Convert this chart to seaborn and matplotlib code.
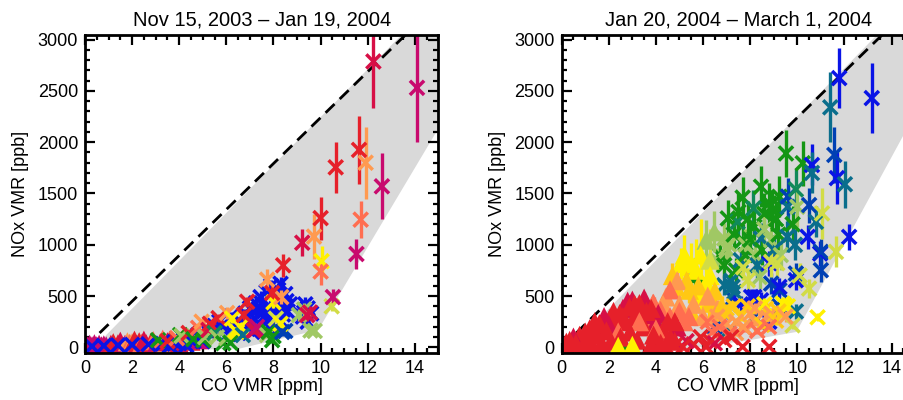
import numpy as np
import pandas as pd
import matplotlib
matplotlib.use("Agg")
import matplotlib.pyplot as plt
from matplotlib.ticker import MultipleLocator
import seaborn as sns

# ---------------- data ----------------
TITLES = ["Nov 15, 2003 \u2013 Jan 19, 2004", "Jan 20, 2004 \u2013 March 1, 2004"]
XLABEL = "CO VMR [ppm]"
YLABEL = "NOx VMR [ppb]"

# colour category (time bin) -> colour
PALETTE = ["#0a14e6", "#0040b4", "#0a6e8c", "#108a5a", "#149614", "#a0c864", "#d2dc46",
           "#fff000", "#ffc814", "#ff9a50", "#ff6e50", "#e6202a", "#d70f46", "#c80a6e"]

# shaded envelope and dashed reference line
L_band_x = [0.3, 0.9, 13.45, 15.3, 15.3, 9.9, 6.6, 0.3]
L_band_y = [-55, 120, 3050, 3050, 2250, 170, -10, -55]
R_band_x = [0.3, 0.9, 13.4, 15.6, 15.6, 9.96, 7.97, 4.0, 0.3]
R_band_y = [-55, 120, 3050, 3050, 2530, 150, 70, -55, -55]
DASH_X = [0.62, 13.62]
DASH_Y = [140, 3050]

# ---- left panel: rows of (CO ppm, NOx ppb, NOx error, colour bin) ----
L_tri = [
    (0.1, 15, 5, 13), (0.2, 30, 5, 13), (0.3, 15, 5, 13), (0.4, 35, 5, 13), (0.5, 15, 5, 13),
    (0.6, 30, 5, 13), (0.7, 15, 5, 13), (0.8, 25, 5, 13), (0.9, 15, 5, 13), (1.1, 30, 10, 12),
    (1.2, 45, 10, 11), (1.4, 35, 10, 11), (1.5, 60, 10, 12), (1.7, 30, 10, 13), (1.8, 55, 10, 9),
    (1.9, 40, 10, 10), (2.0, 45, 15, 9), (2.1, 70, 15, 11), (2.2, 30, 10, 12), (2.3, 55, 15, 11),
    (2.4, 40, 10, 10), (2.5, 70, 15, 12), (2.6, 35, 10, 12), (2.8, 50, 15, 11), (2.9, 65, 20, 10),
    (3.0, 25, 10, 13), (3.2, 45, 15, 11), (3.3, 80, 20, 10), (3.4, 30, 10, 9), (3.5, 55, 20, 12),
    (3.6, 70, 20, 11), (4.0, 40, 15, 12), (4.5, 60, 20, 11), (4.85, 75, 30, 13),
]
L_blue = [
    (0.3, 10, 10, 0), (0.8, 15, 10, 0), (1.4, 20, 10, 0), (2.0, 25, 10, 0), (2.7, 30, 10, 0),
    (3.3, 35, 10, 0), (3.6, 15, 10, 0), (3.8, 50, 15, 0), (4.0, 40, 15, 0), (4.2, 70, 20, 0),
    (4.3, 20, 10, 0), (4.5, 110, 20, 0), (4.6, 60, 20, 0), (4.8, 120, 25, 0), (4.9, 90, 20, 0),
    (5.0, 60, 15, 0), (5.2, 160, 30, 0), (5.4, 140, 30, 0), (5.5, 210, 30, 0), (5.6, 180, 30, 0),
    (5.7, 250, 40, 0), (5.9, 170, 30, 0), (6.0, 200, 30, 0), (6.1, 130, 30, 0), (6.2, 300, 40, 0),
    (6.3, 190, 30, 0), (6.4, 220, 30, 0), (6.5, 140, 30, 0), (6.6, 250, 40, 0), (6.8, 330, 40, 0),
    (6.9, 300, 40, 0), (6.95, 220, 30, 0), (7.0, 380, 50, 0), (7.05, 250, 40, 0), (7.1, 150, 30, 0),
    (7.2, 280, 40, 0), (7.25, 430, 50, 0), (7.35, 370, 50, 0), (7.4, 180, 30, 0), (7.45, 490, 60, 0),
    (7.5, 430, 50, 0), (7.6, 300, 40, 0), (7.6, 350, 50, 0), (7.7, 540, 60, 0), (7.7, 260, 40, 0),
    (7.8, 200, 30, 0), (7.85, 380, 50, 0), (7.9, 600, 60, 0), (7.95, 230, 30, 0), (8.0, 170, 30, 0),
    (8.05, 470, 60, 0), (8.1, 330, 40, 0), (8.15, 500, 60, 0), (8.2, 400, 50, 0), (8.2, 560, 70, 0),
    (8.3, 620, 70, 0), (8.35, 250, 40, 0), (8.4, 320, 50, 0), (8.45, 380, 50, 0), (8.5, 160, 30, 1),
    (8.5, 520, 60, 0), (8.55, 450, 60, 0), (8.6, 350, 50, 0), (8.7, 420, 60, 0), (9.25, 300, 60, 0),
    (9.3, 340, 100, 0), (9.35, 420, 70, 0), (9.45, 250, 60, 0), (9.45, 380, 60, 0), (9.6, 330, 50, 0),
]
L_mix = [
    (3.1, 70, 20, 4), (3.5, 60, 20, 11), (3.9, 90, 20, 10), (4.04, 120, 25, 4), (4.1, 110, 25, 5),
    (4.4, 140, 25, 11), (4.6, 80, 20, 4), (4.8, 190, 30, 10), (4.95, 250, 30, 9), (5.03, 70, 20, 4),
    (5.1, 100, 20, 5), (5.24, 170, 30, 12), (5.3, 230, 30, 11), (5.5, 140, 30, 3), (5.6, 100, 20, 5),
    (5.67, 285, 40, 11), (5.87, 40, 20, 4), (6.0, 90, 20, 5), (6.03, 335, 60, 9), (6.17, 45, 20, 4),
    (6.24, 280, 40, 7), (6.38, 165, 30, 7), (6.45, 150, 30, 7), (6.6, 200, 30, 7), (6.7, 120, 30, 2),
    (6.74, 315, 50, 11), (6.88, 445, 50, 11), (7.16, 165, 30, 12), (7.23, 170, 30, 12), (7.3, 200, 30, 13),
    (7.73, 120, 30, 5), (7.8, 150, 30, 4), (7.94, 70, 30, 4), (8.0, 440, 60, 7), (8.0, 110, 30, 4),
    (8.1, 280, 40, 6), (8.3, 230, 40, 7), (8.33, 490, 70, 9), (8.37, 150, 40, 1), (7.73, 660, 100, 9),
    (7.94, 530, 70, 11), (8.41, 800, 110, 11), (9.08, 315, 60, 5), (9.3, 370, 60, 5), (9.43, 315, 60, 12),
    (9.55, 340, 60, 12), (9.57, 165, 40, 5), (9.75, 160, 40, 5), (10.47, 400, 50, 6), (10.52, 490, 80, 13),
]
L_big = [
    (10.04, 840, 150, 7), (10.0, 740, 130, 10), (9.22, 1020, 130, 12), (9.72, 1080, 220, 9),
    (10.0, 1260, 210, 11), (11.52, 910, 150, 13), (11.7, 1245, 180, 10), (10.64, 1755, 250, 11),
    (11.63, 1925, 330, 11), (11.91, 1800, 350, 9), (12.6, 1570, 320, 13), (12.24, 2787, 450, 12),
    (14.09, 2530, 530, 13),
]

# ---- right panel ----
R_cool = [
    (6.5, 200, 60, 1), (6.8, 350, 80, 0), (7.0, 150, 50, 2), (7.2, 650, 90, 2), (7.25, 480, 90, 1),
    (7.25, 590, 90, 2), (7.6, 420, 80, 0), (8.18, 300, 60, 1), (8.18, 491, 80, 0), (8.81, 250, 60, 0),
    (9.24, 400, 80, 1), (9.94, 350, 70, 2), (6.7, 900, 120, 4), (6.6, 850, 120, 5), (6.9, 800, 120, 4),
    (6.9, 1061, 150, 5), (6.9, 606, 100, 2), (6.98, 964, 150, 5), (7.05, 1257, 180, 4), (7.1, 1000, 150, 5),
    (7.3, 1100, 150, 4), (7.33, 540, 90, 2), (7.4, 750, 120, 4), (7.47, 1224, 150, 3),
    (7.5, 1320, 180, 4), (7.6, 850, 120, 2), (7.68, 1460, 200, 4), (7.68, 1045, 160, 4), (7.8, 900, 150, 4),
    (7.8, 1000, 150, 5), (7.9, 1250, 180, 4), (8.0, 1050, 150, 4), (8.04, 491, 80, 0),
    (8.14, 1355, 180, 3), (8.18, 1175, 180, 4), (8.2, 900, 150, 5), (8.3, 800, 120, 2),
    (8.46, 1566, 200, 4), (8.46, 1061, 150, 2), (8.46, 459, 80, 0), (8.5, 950, 150, 4), (8.6, 1300, 200, 4),
    (8.6, 1150, 150, 5), (8.81, 1404, 200, 4), (8.81, 820, 120, 0), (8.89, 1045, 170, 5),
    (8.89, 622, 100, 1), (8.94, 1338, 200, 4), (9.0, 950, 150, 2), (9.1, 1250, 180, 4),
    (9.2, 1100, 150, 4), (9.24, 1468, 200, 4), (9.24, 557, 90, 1), (9.24, 589, 90, 0),
    (9.3, 900, 150, 5), (9.52, 1890, 230, 4), (9.58, 1077, 150, 2), (9.59, 1370, 180, 2), (9.6, 1470, 180, 1),
    (9.8, 1200, 180, 4), (9.9, 1000, 150, 2), (9.94, 1540, 200, 3), (9.94, 720, 100, 1),
    (9.94, 655, 100, 0), (10.0, 1370, 200, 5), (10.23, 1795, 220, 4), (10.44, 1077, 120, 0),
    (10.5, 1387, 170, 1), (10.62, 1778, 200, 0), (10.62, 1700, 200, 2), (10.79, 1224, 150, 2), (10.97, 915, 120, 0),
    (11.0, 931, 130, 1), (11.0, 752, 110, 1), (11.4, 2340, 340, 2), (11.57, 1876, 270, 1), (11.68, 1650, 250, 0),
    (11.78, 2625, 295, 0), (12.02, 1590, 230, 2), (12.2, 1077, 130, 0), (13.16, 2430, 340, 0), (8.89, 833, 150, 6),
    (9.15, 820, 130, 6), (8.4, 685, 120, 5), (7.7, 780, 120, 6), (10.1, 700, 120, 6), (11.05, 1306, 250, 6),
    (11.64, 931, 150, 6), (7.9, 655, 120, 6),
]
R_tri = [
    (4.0, 250, 40, 4), (2.6, 40, 20, 4), (3.5, 300, 50, 4), (6.13, 1045, 200, 5), (6.48, 1126, 200, 5),
    (5.64, 720, 150, 4), (5.07, 818, 150, 7), (5.2, 900, 200, 7), (5.5, 820, 200, 7), (5.7, 752, 300, 7),
    (5.9, 900, 350, 7), (6.3, 850, 300, 6), (6.13, 622, 200, 7), (4.7, 700, 120, 8), (5.3, 650, 150, 8),
    (5.9, 500, 150, 7), (6.3, 700, 150, 7), (6.27, 430, 150, 8), (6.5, 550, 120, 8), (6.6, 360, 100, 9),
    (4.86, 590, 100, 8), (4.9, 650, 100, 9), (5.42, 557, 120, 8), (5.8, 600, 120, 8), (5.5, 350, 100, 8),
    (6.0, 300, 100, 9), (6.2, 500, 100, 9), (6.8, 400, 100, 8), (4.43, 491, 80, 9), (4.6, 560, 80, 10),
    (5.0, 420, 100, 9), (4.3, 420, 60, 9), (5.6, 420, 80, 9), (3.87, 427, 60, 10), (4.2, 360, 60, 10),
    (4.6, 300, 60, 10), (5.2, 250, 60, 10), (5.0, 350, 60, 10), (5.4, 300, 60, 10), (3.73, 296, 50, 10),
    (3.9, 430, 60, 10), (3.0, 460, 60, 12), (3.5, 480, 60, 12), (2.8, 450, 60, 12), (2.6, 380, 50, 12),
    (3.4, 320, 50, 12), (4.0, 250, 40, 12), (4.1, 330, 50, 12), (3.3, 427, 60, 11), (3.1, 420, 60, 11),
    (3.6, 350, 50, 11), (3.8, 380, 50, 11), (2.88, 394, 50, 11), (3.1, 300, 40, 11), (2.46, 329, 40, 11),
    (2.2, 350, 40, 11), (2.7, 250, 40, 11), (2.6, 300, 40, 11), (2.03, 280, 40, 11), (1.8, 300, 40, 12),
    (2.3, 200, 30, 11), (2.0, 220, 30, 12), (1.6, 231, 30, 11), (1.4, 250, 30, 11), (1.9, 160, 30, 11),
    (1.19, 182, 30, 11), (1.5, 120, 20, 11), (1.0, 150, 20, 11), (0.76, 117, 20, 11), (1.1, 80, 20, 11),
    (0.5, 100, 20, 12), (0.34, 68, 15, 11), (0.6, 40, 15, 11), (0.2, 50, 15, 11), (0.1, 20, 10, 11),
    (3.5, 200, 30, 11), (4.3, 166, 30, 11), (4.5, 250, 40, 11), (4.9, 200, 40, 12), (4.8, 250, 40, 11),
    (3.3, 250, 40, 10), (2.4, 150, 30, 10), (4.0, 180, 30, 10), (2.9, 150, 20, 11), (3.9, 120, 20, 11),
    (2.5, 100, 20, 11), (4.6, 100, 20, 11), (2.1, 60, 15, 11), (3.2, 70, 15, 11), (1.7, 40, 10, 11),
    (4.8, 60, 15, 11), (1.3, 20, 10, 11), (3.8, 30, 10, 11), (0.9, 10, 5, 11), (4.2, 40, 10, 11),
    (2.4, 10, 5, 7), (3.0, 20, 5, 7),
]
R_warm = [
    (9.38, 427, 60, 7), (10.5, 573, 90, 6), (10.86, 293, 40, 7), (9.8, 215, 40, 6), (9.45, 410, 50, 7),
    (9.6, 400, 50, 7), (8.67, 378, 60, 8), (8.7, 300, 50, 9), (7.3, 400, 50, 8), (8.6, 420, 60, 7),
    (6.9, 330, 50, 8), (7.6, 300, 40, 8), (8.0, 330, 40, 9), (8.2, 250, 40, 9), (8.5, 220, 40, 8),
    (8.9, 330, 50, 9), (9.1, 260, 40, 8), (7.0, 380, 40, 8), (7.9, 400, 50, 8), (8.2, 380, 50, 9),
    (9.2, 350, 50, 8), (9.5, 300, 50, 9), (6.2, 250, 30, 10), (6.6, 300, 40, 9), (7.4, 250, 40, 9),
    (8.8, 200, 40, 10), (7.4, 140, 30, 9), (7.8, 180, 30, 10), (8.3, 160, 30, 10), (7.0, 230, 30, 9),
    (6.7, 200, 30, 10), (6.4, 150, 30, 10), (7.7, 200, 30, 9), (7.12, 134, 30, 10), (6.9, 70, 20, 11),
    (7.2, 100, 20, 11), (6.3, 60, 20, 11), (5.9, 100, 20, 11), (6.5, 40, 20, 12), (5.6, 30, 15, 11),
    (5.3, 60, 20, 12), (4.8, 20, 10, 11), (4.43, 5, 10, 11), (5.14, 5, 10, 11), (6.13, 5, 10, 11),
    (7.68, 5, 10, 11), (8.81, 5, 10, 11),
]

# ---------------- drawing ----------------
sns.set_style("ticks")
plt.rcParams["font.family"] = ["Liberation Sans", "DejaVu Sans"]
for k in ("text.color", "axes.labelcolor", "xtick.color", "ytick.color", "axes.edgecolor"):
    plt.rcParams[k] = "black"

fig = plt.figure(figsize=(9.04, 4.0), dpi=100)
axL = fig.add_axes([0.094, 0.1175, 0.391, 0.795])
axR = fig.add_axes([0.6213, 0.1175, 0.391, 0.795])

pal = {i: c for i, c in enumerate(PALETTE)}


def draw_layer(ax, rows, marker, z):
    d = pd.DataFrame(rows, columns=["x", "y", "e", "c"])
    ax.vlines(d["x"], d["y"] - d["e"], d["y"] + d["e"],
              colors=[PALETTE[c] for c in d["c"]], lw=2.4, zorder=z)
    if marker == "^":
        sns.scatterplot(data=d, x="x", y="y", hue="c", palette=pal, marker="^", s=190,
                        linewidth=0, legend=False, ax=ax, zorder=z + 0.5)
    else:
        sns.scatterplot(data=d, x="x", y="y", hue="c", palette=pal, marker="x", s=105,
                        linewidth=2.5, legend=False, ax=ax, zorder=z + 0.5)


def style_axes(ax, title, band_x, band_y):
    ax.fill(band_x, band_y, color="#d9d9d9", lw=0, zorder=0)
    ax.plot(DASH_X, DASH_Y, color="black", lw=2.0, dashes=(4.5, 2.6), zorder=1)
    ax.set_xlim(0, 15)
    ax.set_ylim(-55, 3045)
    ax.xaxis.set_major_locator(MultipleLocator(2))
    ax.xaxis.set_minor_locator(MultipleLocator(0.5))
    ax.yaxis.set_major_locator(MultipleLocator(500))
    ax.yaxis.set_minor_locator(MultipleLocator(100))
    ax.tick_params(which="both", direction="in", top=True, right=True, width=1.6,
                   labelsize=13, colors="black")
    ax.tick_params(which="major", length=7, pad=5)
    ax.tick_params(which="minor", length=3.5)
    for sp in ax.spines.values():
        sp.set_linewidth(2.0)
        sp.set_color("black")
        sp.set_zorder(20)
    ax.set_title(title, fontsize=14.5, pad=7)
    ax.set_xlabel(XLABEL, fontsize=13, labelpad=1)
    ax.set_ylabel(YLABEL, fontsize=13, labelpad=6)


style_axes(axL, TITLES[0], L_band_x, L_band_y)
draw_layer(axL, L_tri, "^", 2)
draw_layer(axL, L_blue, "x", 3)
draw_layer(axL, L_mix, "x", 4)
draw_layer(axL, L_big, "x", 5)

style_axes(axR, TITLES[1], R_band_x, R_band_y)
draw_layer(axR, R_cool, "x", 2)
draw_layer(axR, R_tri, "^", 3)
draw_layer(axR, R_warm, "x", 4)

fig.savefig("out.png", dpi=100)
